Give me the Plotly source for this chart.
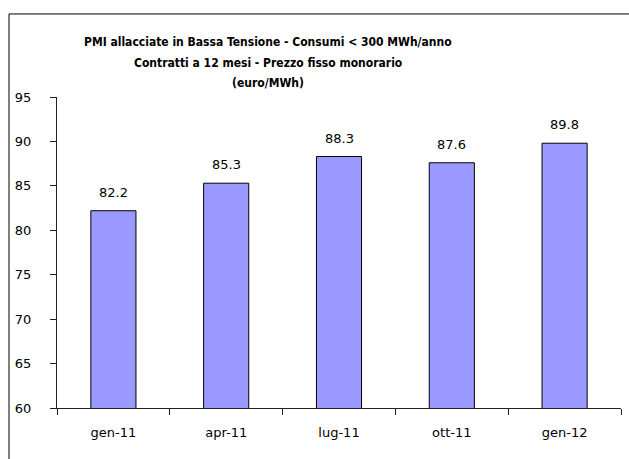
import plotly.graph_objects as go

# PMI in bassa tensione, prezzo fisso monorario (euro/MWh)
mesi = ["gen-11", "apr-11", "lug-11", "ott-11", "gen-12"]
prezzi = [82.2, 85.3, 88.3, 87.6, 89.8]

titolo = ["PMI allacciate in Bassa Tensione - Consumi < 300 MWh/anno",
          "Contratti a 12 mesi - Prezzo fisso monorario",
          "(euro/MWh)"]

font_name = "DejaVu Sans"
font_title = "DejaVu Sans Condensed, DejaVu Serif"

fig = go.Figure()
fig.add_trace(go.Bar(
    x=mesi,
    y=prezzi,
    marker=dict(color="#9999FF", line=dict(color="black", width=1)),
    showlegend=False,
))

# etichette valori sopra le barre
for m, p in zip(mesi, prezzi):
    fig.add_annotation(x=m, y=p, text=f"{p:.1f}", showarrow=False,
                       yanchor="bottom", yshift=9,
                       font=dict(family=font_name, size=13, color="black"))

# titolo su tre righe, interlinea come nell'originale
for i, riga in enumerate(titolo):
    fig.add_annotation(text=f"<b>{riga}</b>", xref="paper", yref="paper",
                       x=0.374, y=1.1768 - i * 0.0665,
                       xanchor="center", yanchor="middle", showarrow=False,
                       font=dict(family=font_title, size=12, color="black"))

fig.update_layout(
    width=629,
    height=459,
    margin=dict(l=57, r=8, t=97, b=51, autoexpand=False),
    paper_bgcolor="white",
    plot_bgcolor="white",
    bargap=0.6,
    font=dict(family=font_name, size=13, color="black"),
    xaxis=dict(
        type="category",
        showline=True, linecolor="#222", linewidth=1,
        ticks="outside", tickson="boundaries", ticklen=6, tickcolor="#222",
        ticklabelstandoff=12,
        showgrid=False, automargin=False,
    ),
    yaxis=dict(
        range=[60, 95], dtick=5,
        showline=True, linecolor="#222", linewidth=1,
        ticks="outside", ticklen=6, tickcolor="#222",
        ticklabelstandoff=16,
        showgrid=False, zeroline=False, automargin=False,
    ),
    # cornice del grafico (lati destro e inferiore fuori dall'immagine)
    shapes=[
        dict(type="line", xref="paper", yref="paper",
             x0=-0.0851, x1=-0.0851, y0=-0.3, y1=1.267,
             line=dict(color="black", width=1)),
        dict(type="line", xref="paper", yref="paper",
             x0=-0.0851, x1=1.1, y0=1.267, y1=1.267,
             line=dict(color="black", width=1)),
    ],
)

# niente margine della pagina, la figura parte da (0, 0)
fig.write_html("out.html",
               config={"displayModeBar": False},
               post_script="document.body.style.margin='0';"
                           "document.body.style.overflow='hidden';")
